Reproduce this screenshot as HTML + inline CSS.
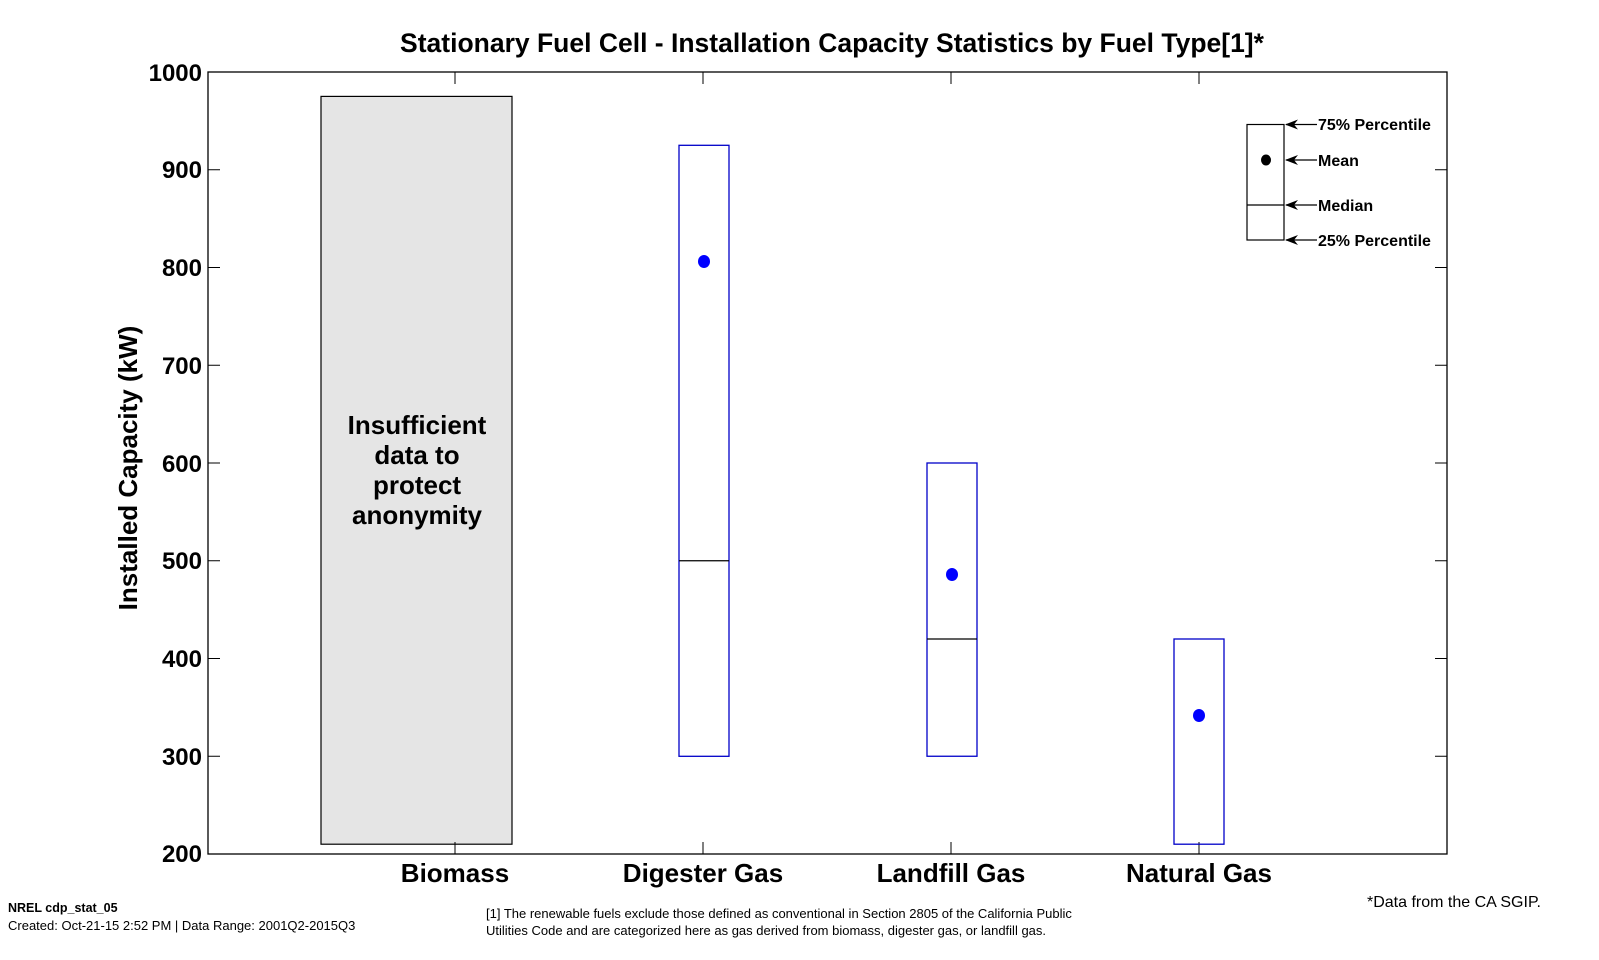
<!DOCTYPE html>
<html><head><meta charset="utf-8"><style>
html,body{margin:0;padding:0;background:#fff;}
svg{display:block;font-family:"Liberation Sans",Arial,sans-serif;}
</style></head><body>
<svg width="1599" height="960" viewBox="0 0 1599 960" xmlns="http://www.w3.org/2000/svg">
<rect width="1599" height="960" fill="#fff"/>
<text x="832" y="52" font-size="26.5" font-weight="bold" text-anchor="middle">Stationary Fuel Cell - Installation Capacity Statistics by Fuel Type[1]*</text>
<!-- biomass box -->
<rect x="321" y="96.4" width="191" height="747.8" fill="#e5e5e5" stroke="#000" stroke-width="1.2"/>
<g font-size="26" font-weight="bold" text-anchor="middle">
<text x="417" y="434">Insufficient</text>
<text x="417" y="464">data to</text>
<text x="417" y="494">protect</text>
<text x="417" y="524">anonymity</text>
</g>
<!-- axes -->
<rect x="208" y="72" width="1239" height="782" fill="none" stroke="#000" stroke-width="1.3"/>
<g stroke="#000" stroke-width="1">
<line x1="208" y1="169.75" x2="220" y2="169.75"/><line x1="1447" y1="169.75" x2="1435" y2="169.75"/>
<line x1="208" y1="267.5" x2="220" y2="267.5"/><line x1="1447" y1="267.5" x2="1435" y2="267.5"/>
<line x1="208" y1="365.25" x2="220" y2="365.25"/><line x1="1447" y1="365.25" x2="1435" y2="365.25"/>
<line x1="208" y1="463" x2="220" y2="463"/><line x1="1447" y1="463" x2="1435" y2="463"/>
<line x1="208" y1="560.75" x2="220" y2="560.75"/><line x1="1447" y1="560.75" x2="1435" y2="560.75"/>
<line x1="208" y1="658.5" x2="220" y2="658.5"/><line x1="1447" y1="658.5" x2="1435" y2="658.5"/>
<line x1="208" y1="756.25" x2="220" y2="756.25"/><line x1="1447" y1="756.25" x2="1435" y2="756.25"/>
<line x1="455" y1="854" x2="455" y2="842"/><line x1="455" y1="72" x2="455" y2="84"/>
<line x1="703" y1="854" x2="703" y2="842"/><line x1="703" y1="72" x2="703" y2="84"/>
<line x1="951" y1="854" x2="951" y2="842"/><line x1="951" y1="72" x2="951" y2="84"/>
<line x1="1199" y1="854" x2="1199" y2="842"/><line x1="1199" y1="72" x2="1199" y2="84"/>
</g>
<g font-size="24" font-weight="bold" text-anchor="end">
<text x="202" y="81">1000</text>
<text x="202" y="178">900</text>
<text x="202" y="276">800</text>
<text x="202" y="374">700</text>
<text x="202" y="472">600</text>
<text x="202" y="569">500</text>
<text x="202" y="667">400</text>
<text x="202" y="765">300</text>
<text x="202" y="862">200</text>
</g>
<text transform="translate(137,468) rotate(-90)" font-size="26" font-weight="bold" text-anchor="middle">Installed Capacity (kW)</text>
<g font-size="26" font-weight="bold" text-anchor="middle">
<text x="455" y="882">Biomass</text>
<text x="703" y="882">Digester Gas</text>
<text x="951" y="882">Landfill Gas</text>
<text x="1199" y="882">Natural Gas</text>
</g>
<!-- boxes -->
<g fill="none" stroke="#0000c8" stroke-width="1.3">
<rect x="679" y="145.3" width="50" height="611"/>
<rect x="927" y="463" width="50" height="293.25"/>
<rect x="1174" y="639" width="50" height="205.2"/>
</g>
<g stroke="#000" stroke-width="1.2">
<line x1="679" y1="560.75" x2="729" y2="560.75"/>
<line x1="927" y1="639" x2="977" y2="639"/>
</g>
<g fill="#0000ff">
<ellipse cx="704" cy="261.5" rx="6" ry="6.5"/>
<ellipse cx="952" cy="574.5" rx="6" ry="6.5"/>
<ellipse cx="1199" cy="715.5" rx="6" ry="6.5"/>
</g>
<!-- legend -->
<g stroke="#000" stroke-width="1.2" fill="none">
<rect x="1247" y="124.5" width="37" height="115.5"/>
<line x1="1247" y1="205" x2="1284" y2="205"/>
<line x1="1286" y1="124.5" x2="1317" y2="124.5"/>
<line x1="1286" y1="160" x2="1317" y2="160"/>
<line x1="1286" y1="205" x2="1317" y2="205"/>
<line x1="1286" y1="240" x2="1317" y2="240"/>
</g>
<g fill="#000">
<polygon points="1285,124.5 1298,119.5 1294,124.5 1298,129.5"/>
<polygon points="1285,160 1298,155 1294,160 1298,165"/>
<polygon points="1285,205 1298,200 1294,205 1298,210"/>
<polygon points="1285,240 1298,235 1294,240 1298,245"/>
<ellipse cx="1266" cy="160" rx="5" ry="5.5"/>
</g>
<g font-size="16" font-weight="bold">
<text x="1318" y="130">75% Percentile</text>
<text x="1318" y="166">Mean</text>
<text x="1318" y="211">Median</text>
<text x="1318" y="246">25% Percentile</text>
</g>
<!-- footer -->
<text x="8" y="912" font-size="12.5" font-weight="bold">NREL cdp_stat_05</text>
<text x="8" y="930" font-size="13">Created: Oct-21-15  2:52 PM | Data Range: 2001Q2-2015Q3</text>
<text x="486" y="918" font-size="13">[1] The renewable fuels exclude those defined as conventional in Section 2805 of the California Public</text>
<text x="486" y="935" font-size="13">Utilities Code and are categorized here as gas derived from biomass, digester gas, or landfill gas.</text>
<text x="1541" y="907" font-size="16" text-anchor="end">*Data from the CA SGIP.</text>
</svg>
</body></html>
